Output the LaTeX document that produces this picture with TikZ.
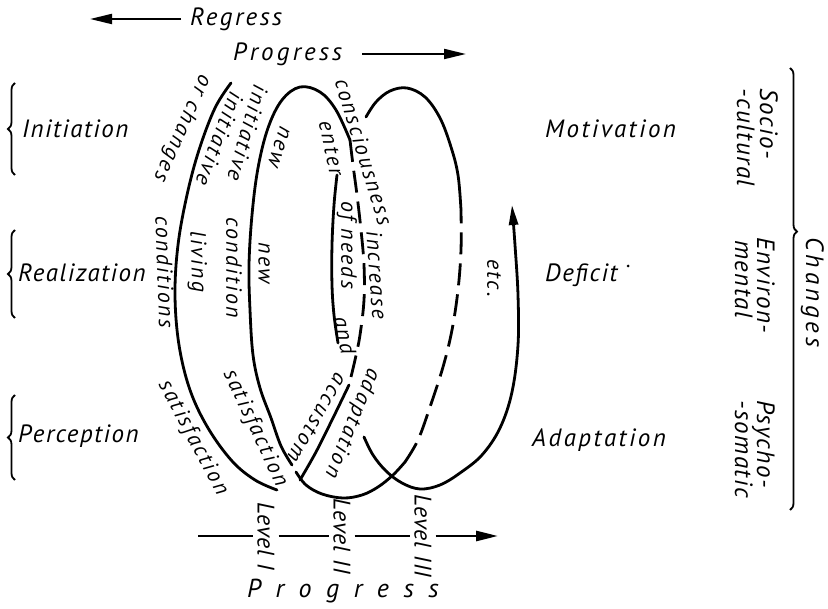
\documentclass[tikz,border=0pt]{standalone}
\usepackage{fontspec}
\setmainfont{PT Sans}
\usetikzlibrary{arrows.meta,decorations.pathreplacing}
\newfontfamily\lf{PT Sans}[LetterSpace=4]
\newfontfamily\lfa{PT Sans}[LetterSpace=6]
\newfontfamily\lfb{PT Sans}[LetterSpace=10]
\newfontfamily\lfc{PT Sans}[LetterSpace=13]
\newfontfamily\lfw{PT Sans}[LetterSpace=16]
\newfontfamily\lfww{PT Sans}[LetterSpace=56]
\begin{document}
\begin{tikzpicture}[x=1pt,y=-1pt,
  lab/.style={font=\lfa\itshape\fontsize{25}{30}\selectfont, inner sep=0pt},
  labb/.style={font=\lfb\itshape\fontsize{25}{30}\selectfont, inner sep=0pt},
  labc/.style={font=\lfc\itshape\fontsize{25}{30}\selectfont, inner sep=0pt},
  clab/.style={font=\lfb\itshape\fontsize{22}{26}\selectfont, inner sep=0pt},
  levlab/.style={font=\lf\itshape\fontsize{24}{28}\selectfont, inner sep=4pt},
  curve/.style={line width=2.8pt, line cap=round},
  dashcurve/.style={line width=2.8pt, dash pattern=on 22pt off 9pt},
  brc/.style={line width=1.8pt, decorate, decoration={brace, amplitude=7pt}},
  tip/.style={-{Triangle[length=22pt,width=10pt]}},
  axisline/.style={line width=2.6pt},
  arr/.style={line width=2pt},
]
\useasboundingbox (0,0) rectangle (828,609);
\fill[white] (0,0) rectangle (828,609);

% side labels
\node[lab, anchor=base west] (ini) at (22,138) {Initiation};
\node[lab, anchor=base west] (rea) at (18,282) {Realization};
\node[lab, anchor=base west] (per) at (18,443) {Perception};
\node[labb, anchor=base west] (mot) at (545,138) {Motivation};
\node[lab, anchor=base west] (def) at (545,282) {Deficit};
\node[labb, anchor=base west] (ada) at (532,447) {Adaptation};
\fill (628,266) circle (1.5);

% left braces
\draw[brc] (15,175) -- (15,83);
\draw[brc] (15,318) -- (15,230);
\draw[brc] (15,480) -- (15,395);

% right column
\node[lab, rotate=-90, anchor=base west] (soc1) at (760,88) {Socio-};
\node[lab, rotate=-90, anchor=base west] (soc2) at (737,88) {-cultural};
\node[lab, rotate=-90, anchor=base west] (env1) at (757,237) {Environ-};
\node[lab, rotate=-90, anchor=base west] (env2) at (735,240) {mental};
\node[lab, rotate=-90, anchor=base west] (psy1) at (757,400) {Psycho-};
\node[lab, rotate=-90, anchor=base west] (psy2) at (735,400) {-somatic};
\draw[brc, decoration={brace, amplitude=7pt, aspect=0.37}] (790,68) -- (790,510);
\node[font=\lfw\itshape\fontsize{25}{30}\selectfont, inner sep=0pt, rotate=-90, anchor=base west] (chg) at (806,237) {Changes};

% top arrows
\node[labb, anchor=west] (reg) at (190,19) {Regress};
\coordinate (rg) at (90,19);
\draw[arr, tip, shorten <=9pt] (reg.west) -- (rg);
\node[labc, anchor=west] (prog) at (233,54) {Progress};
\coordinate (pe) at (466,54);
\draw[arr, tip, shorten <=20pt] (prog.east) -- (pe);

% curve labels
\node[clab, rotate=-114] (orch) at (182,128) {or changes};
\node[clab, rotate=-111] (ini1) at (220,139) {initiative};
\node[clab, rotate=-106] (ini2) at (248,133) {initiative};
\node[clab, rotate=-108] (new1) at (279,147) {new};
\node[clab, rotate=-88] (cond1) at (165,272) {conditions};
\node[clab, rotate=-88] (liv) at (197,262) {living};
\node[clab, rotate=-90] (new2) at (264,263) {new};
\node[clab, rotate=-90] (cond2) at (234,268) {condition};
\node[clab, rotate=-62] (sat1) at (193,438) {satisfaction};
\node[clab, rotate=-65] (sat2) at (255,428) {satisfaction};
\node[clab, rotate=-73] (con) at (364,152) {consciousness};
\node[clab, rotate=-86] (inc) at (377,275) {increase};
\node[clab, rotate=-78] (ent) at (331,148) {enter};
\node[clab, rotate=-90] (ofn) at (347,245) {of needs};
\node[clab, rotate=-78] (andl) at (345,335) {and};
\node[clab, rotate=-120] (acc) at (317,418) {accustom};
\node[clab, rotate=-112] (adp) at (352,423) {adaptation};
\node[clab, rotate=-90] (etc) at (494,278) {etc.};

% spiral curves
\draw[curve] plot[smooth, tension=0.6] coordinates {(231,83) (215,108) (199,150) (187,195) (178,245) (175,295) (179,345) (190,390) (208,428) (232,461) (255,480) (277,490)};
\draw[curve] plot[smooth, tension=0.6] coordinates {(292,465) (281,446) (271,418) (260,388) (253,355) (250,310) (249,265) (252,215) (258,168) (268,128) (282,100) (300,87) (320,92) (336,110) (350,140)};
\draw[dashcurve] plot[smooth, tension=0.6] coordinates {(350,140) (353,165) (357,195) (361,230) (364,265) (364,300) (360,335) (355,360) (349,385)};
\draw[curve] plot[smooth, tension=0.6] coordinates {(349,385) (333,418) (316,452) (300,480)};
\draw[curve] plot[smooth, tension=0.6] coordinates {(296,472) (306,485) (322,494) (343,498) (362,495) (378,487) (393,475) (405,462)};
\draw[dashcurve] plot[smooth, tension=0.6] coordinates {(405,462) (418,440) (430,407) (443,367) (452,330) (458,290) (461,250) (461,210)};
\draw[curve] plot[smooth, tension=0.6] coordinates {(461,210) (458,175) (451,147) (440,118) (425,97) (407,88) (390,91) (376,102) (366,117)};
\draw[curve] plot[smooth, tension=0.6] coordinates {(337,175) (334,205) (332,245) (332,285) (334,315) (338,343)};
\draw[curve, -{Triangle[length=20pt,width=9pt]}] plot[smooth, tension=0.6] coordinates {(364,437) (373,455) (386,471) (402,483) (420,489) (440,485) (460,473) (482,455) (500,428) (512,392) (518,345) (518,295) (515,245) (512,205)};

% bottom axis
\node[levlab, rotate=-90] (L1) at (266,536) {Level I};
\node[levlab, rotate=-90] (L2) at (342,536) {Level II};
\node[levlab, rotate=-90] (L3) at (423,536) {Level III};
\coordinate (ax0) at (198,536);
\coordinate (ax1) at (498,536);
\draw[axisline] (ax0) -- (L1);
\draw[axisline] (L1) -- (L2);
\draw[axisline] (L2) -- (L3);
\draw[axisline, tip] (L3) -- (ax1);
\node[font=\lfww\itshape\fontsize{26}{30}\selectfont, inner sep=0pt] (bprog) at (343,591) {Progress};
\end{tikzpicture}
\end{document}
